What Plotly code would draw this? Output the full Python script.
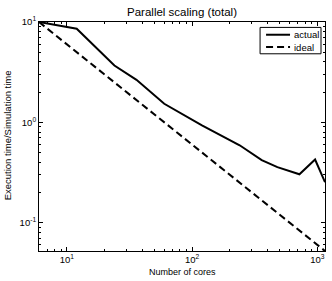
import math
import plotly.graph_objects as go

# Data
cores = [6, 12, 24, 36, 60, 120, 240, 360, 480, 720, 960, 1152]
actual = [10.0, 8.57, 3.68, 2.65, 1.53, 0.93, 0.59, 0.42, 0.357, 0.303, 0.425, 0.253]
ideal = [10.0, 5.0, 2.5, 1.667, 1.0, 0.5, 0.25, 0.1667, 0.125, 0.0833, 0.0625, 0.0521]
series_names = ["actual", "ideal"]

x_major = [10, 100, 1000]
x_major_text = ["10<sup>1</sup>", "10<sup>2</sup>", "10<sup>3</sup>"]
y_major = [0.1, 1, 10]
y_major_text = ["10<sup>-1</sup>", "10<sup>0</sup>", "10<sup>1</sup>"]

x_minor = [m * d for d in (1, 10, 100, 1000) for m in range(2, 10)]
y_minor = [m * d for d in (0.01, 0.1, 1) for m in range(2, 10)]

FONT = "Liberation Sans, Arial, sans-serif"

W, H = 332, 281
PX0, PX1, PY0, PY1 = 38.7, 325.0, 22.3, 250.7  # plot area in window pixels


def px(x):
    return (x - PX0) / (PX1 - PX0)


def py(y):
    return 1 - (y - PY0) / (PY1 - PY0)


DASH = "7px,4px"

fig = go.Figure()
fig.add_trace(go.Scatter(x=cores, y=actual, mode="lines", name=series_names[0],
                         line=dict(color="black", width=2), showlegend=False,
                         hoverinfo="skip"))
fig.add_trace(go.Scatter(x=cores, y=ideal, mode="lines", name=series_names[1],
                         line=dict(color="black", width=2, dash=DASH), showlegend=False,
                         hoverinfo="skip"))

axis_common = dict(
    type="log", showline=True, linecolor="black", linewidth=1,
    mirror="allticks", ticks="inside", ticklen=4, tickcolor="black", tickwidth=1,
    showgrid=False, zeroline=False,
    tickfont=dict(family=FONT, size=9.5, color="black"),
)

fig.update_xaxes(
    **axis_common,
    range=[math.log10(min(cores)), math.log10(max(cores))],
    tickmode="array", tickvals=x_major, ticktext=x_major_text,
    minor=dict(tickmode="array", tickvals=x_minor, ticks="inside", ticklen=2,
               tickcolor="black", showgrid=False),
)
fig.update_yaxes(
    **axis_common,
    range=[math.log10(min(ideal)), math.log10(max(actual))],
    tickmode="array", tickvals=y_major, ticktext=y_major_text,
    minor=dict(tickmode="array", tickvals=y_minor, ticks="inside", ticklen=2,
               tickcolor="black", showgrid=False),
)

# manual legend (matching MATLAB's compact legend box)
shapes = [
    dict(type="rect", xref="paper", yref="paper",
         x0=px(260), x1=px(321), y0=py(54), y1=py(27.7),
         line=dict(color="black", width=1), fillcolor="white", layer="above"),
    dict(type="line", xref="paper", yref="paper",
         x0=px(266), x1=px(290), y0=py(35), y1=py(35),
         line=dict(color="black", width=2), layer="above"),
    dict(type="line", xref="paper", yref="paper",
         x0=px(266), x1=px(290), y0=py(47.3), y1=py(47.3),
         line=dict(color="black", width=2, dash=DASH), layer="above"),
]
legend_texts = [
    dict(text=series_names[0], xref="paper", yref="paper", x=px(291.5), y=py(35),
         xanchor="left", yanchor="middle", showarrow=False,
         font=dict(family=FONT, size=9.5, color="black")),
    dict(text=series_names[1], xref="paper", yref="paper", x=px(291.5), y=py(47.3),
         xanchor="left", yanchor="middle", showarrow=False,
         font=dict(family=FONT, size=9.5, color="black")),
]

fig.update_layout(
    width=W, height=H,
    margin=dict(l=PX0, r=W - PX1, t=PY0, b=H - PY1, pad=0),
    paper_bgcolor="white", plot_bgcolor="white",
    font=dict(family=FONT, size=9.5, color="black"),
    title=dict(text="Parallel scaling (total)", x=0.5, xref="paper",
               y=1 - 12 / H, yref="container", yanchor="middle", xanchor="center",
               font=dict(family=FONT, size=11.5, color="black")),
    showlegend=False,
    hovermode=False,
    shapes=shapes,
    annotations=legend_texts + [
        dict(text="Number of cores", xref="paper", yref="paper", x=0.5, y=py(272),
             xanchor="center", yanchor="middle", showarrow=False,
             font=dict(family=FONT, size=9, color="black")),
        dict(text="Execution time/Simulation time", xref="paper", yref="paper",
             x=px(8), y=px(0) * 0 + py(135), xanchor="center", yanchor="middle",
             textangle=-90, showarrow=False,
             font=dict(family=FONT, size=9.5, color="black")),
    ],
)

fig.write_html(
    "out.html",
    config={"displayModeBar": False, "staticPlot": True},
    post_script="document.body.style.margin='0';document.body.style.overflow='hidden';",
)
